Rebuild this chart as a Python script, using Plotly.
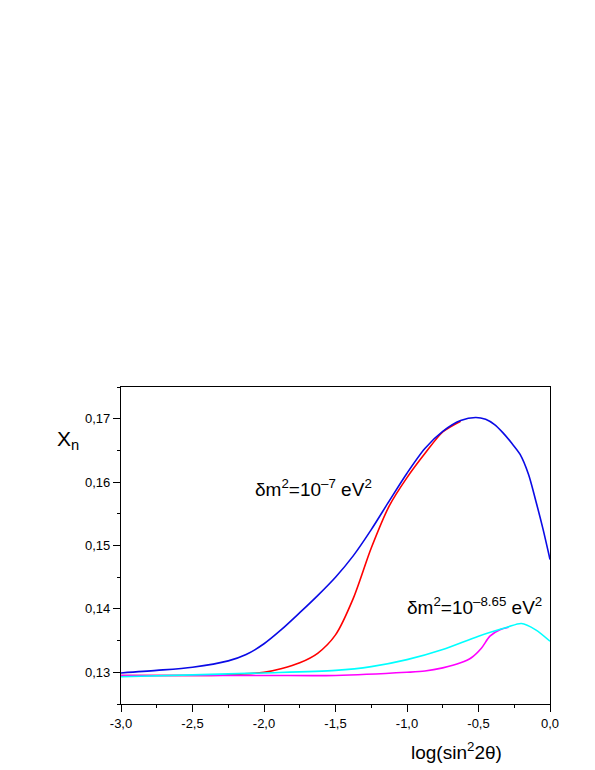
import plotly.graph_objects as go

# ── 数据 ─────────────────────────────────────
x_blue = [-3.0, -2.75, -2.5, -2.25, -2.125, -2.0, -1.875, -1.75, -1.625, -1.5, -1.375,
          -1.25, -1.125, -1.0, -0.875, -0.75, -0.625, -0.52, -0.45, -0.39, -0.33,
          -0.27, -0.21, -0.15, -0.1, -0.05, 0.0]
y_blue = [0.1299, 0.1303, 0.1308, 0.1318, 0.1328, 0.1345, 0.1368, 0.1394, 0.1421,
          0.1450, 0.1484, 0.1525, 0.1570, 0.1614, 0.1653, 0.1680, 0.1697, 0.1702,
          0.1699, 0.1691, 0.1678, 0.1662, 0.1644, 0.1612, 0.1571, 0.1527, 0.1478]

x_red = [-3.0, -2.5, -2.25, -2.0, -1.875, -1.75, -1.625, -1.5, -1.375, -1.25,
         -1.125, -1.0, -0.875, -0.75, -0.625]
y_red = [0.1295, 0.1295, 0.1296, 0.1300, 0.1306, 0.1315, 0.1330, 0.1359, 0.1417,
         0.1496, 0.1562, 0.1607, 0.1645, 0.1679, 0.1696]

x_cyan = [-3.0, -2.5, -2.0, -1.5, -1.25, -1.0, -0.75, -0.5, -0.3, -0.2, -0.1, 0.0]
y_cyan = [0.1293, 0.1296, 0.1299, 0.1303, 0.1309, 0.1320, 0.1336, 0.1357, 0.1371,
          0.1377, 0.1367, 0.1349]

x_mag = [-3.0, -2.0, -1.5, -1.0, -0.875, -0.75, -0.625, -0.55, -0.48, -0.42,
         -0.35, -0.29]
y_mag = [0.1295, 0.1295, 0.1295, 0.1300, 0.1302, 0.1307, 0.1315, 0.1323, 0.1338,
         0.1357, 0.1367, 0.1371]

x_tickvals = [-3.0, -2.5, -2.0, -1.5, -1.0, -0.5, 0.0]
x_ticktext = ["-3,0", "-2,5", "-2,0", "-1,5", "-1,0", "-0,5", "0,0"]
y_tickvals = [0.13, 0.14, 0.15, 0.16, 0.17]
y_ticktext = ["0,13", "0,14", "0,15", "0,16", "0,17"]

FONT = "Arial, Liberation Sans, sans-serif"
LW = 1.6

fig = go.Figure()
# 绘制顺序：红在蓝下，品红在青下
fig.add_trace(go.Scatter(x=x_red, y=y_red, mode="lines", line_shape="spline",
                         line=dict(color="#ff0000", width=LW, smoothing=0.8)))
fig.add_trace(go.Scatter(x=x_blue, y=y_blue, mode="lines", line_shape="spline",
                         line=dict(color="#0a0ae6", width=LW, smoothing=0.8)))
fig.add_trace(go.Scatter(x=x_mag, y=y_mag, mode="lines", line_shape="spline",
                         line=dict(color="#ff00ff", width=LW, smoothing=0.8)))
fig.add_trace(go.Scatter(x=x_cyan, y=y_cyan, mode="lines", line_shape="spline",
                         line=dict(color="#00ffff", width=LW, smoothing=0.8)))

fig.add_annotation(x=-1.657, y=0.1591, xref="x", yref="y", showarrow=False,
                   xanchor="center", yanchor="middle",
                   text="δm<sup>2</sup>=10<sup>–7</sup> eV<sup>2</sup>",
                   font=dict(family=FONT, size=19, color="black"))
fig.add_annotation(x=-0.531, y=0.1405, xref="x", yref="y", showarrow=False,
                   xanchor="center", yanchor="middle",
                   text="δm<sup>2</sup>=10<sup>–8.65</sup> eV<sup>2</sup>",
                   font=dict(family=FONT, size=19, color="black"))
fig.add_annotation(x=-0.1235, y=0.833, xref="paper", yref="paper", showarrow=False,
                   xanchor="center", yanchor="middle",
                   text="X<sub>n</sub>", font=dict(family=FONT, size=21, color="black"))
fig.add_annotation(x=0.783, y=-0.148, xref="paper", yref="paper", showarrow=False,
                   xanchor="center", yanchor="middle",
                   text="log(sin<sup>2</sup>2θ)", font=dict(family=FONT, size=19, color="black"))

axis_common = dict(showgrid=False, zeroline=False, showline=True, linecolor="black",
                   linewidth=1.2, mirror=True, ticks="outside", tickcolor="black",
                   ticklen=7, tickwidth=1, tickfont=dict(family=FONT, size=13, color="black"))

fig.update_xaxes(range=[-3.0, 0.0], tickvals=x_tickvals, ticktext=x_ticktext,
                 minor=dict(ticks="outside", ticklen=3, dtick=0.25, tick0=-3.0,
                            tickcolor="black"),
                 **axis_common)
fig.update_yaxes(range=[0.125, 0.175], tickvals=y_tickvals, ticktext=y_ticktext,
                 minor=dict(ticks="outside", ticklen=3, dtick=0.005, tick0=0.125,
                            tickcolor="black"),
                 **axis_common)

fig.update_layout(width=595, height=770, showlegend=False,
                  margin=dict(l=113, r=53, t=379, b=74),
                  plot_bgcolor="white", paper_bgcolor="white",
                  font=dict(family=FONT))

fig.write_html("out.html")
